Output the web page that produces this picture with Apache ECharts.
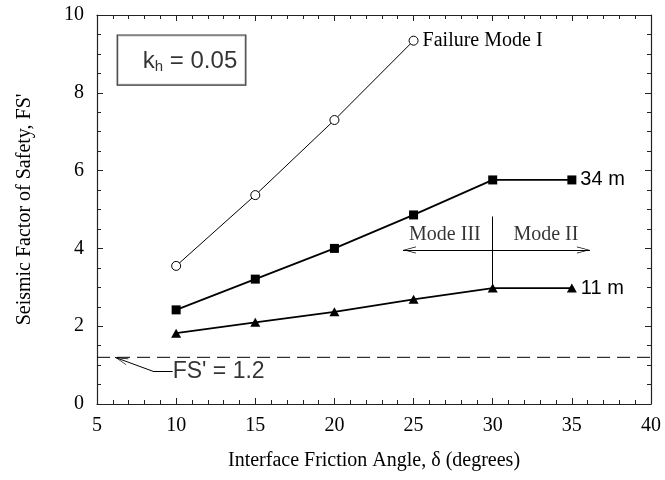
<!DOCTYPE html>
<html><head><meta charset="utf-8">
<script src="https://cdn.jsdelivr.net/npm/echarts@6/dist/echarts.min.js"></script>
<style>html,body{margin:0;padding:0;background:#fff}#c{width:665px;height:480px}</style>
</head><body><div id="c"></div>
<script>
// ---- data ----
const angles = [10, 15, 20, 25, 30, 35];
const modeIAngles = [10, 15, 20, 25];
const modeIValues = [3.55, 5.37, 7.30, 9.34];
const h34Values = [2.42, 3.21, 4.00, 4.86, 5.76, 5.76];
const h11Values = [1.82, 2.10, 2.37, 2.69, 2.98, 2.98];
const fsLimit = 1.2;
const xRange = [5, 40];
const yRange = [0, 10];
const modeILabel = 'Failure Mode I';
const h34Label = '34 m';
const h11Label = '11 m';
// annotation anchors (data coordinates)
const modeBoundaryAngle = 30;
const modeArrowRange = [24.33, 36.14];
const modeArrowY = 3.96;
const modeBoundaryTop = 4.82;
const modeIIIText = [26.98, 4.34];
const modeIIText = [33.36, 4.34];
const khBoxPos = [10.34, 8.84];
const fsTextPos = [9.78, 0.84];
const fsLeader = [[9.78, 0.84], [8.54, 0.84], [6.14, 1.2]];

const serif = "'Liberation Serif','Times New Roman',serif";
const sans = "'Liberation Sans',Arial,Helvetica,sans-serif";
const axisColor = '#222';

function withEndLabel(xs, ys, text, font, size) {
  return xs.map((x, i) => {
    const item = { value: [x, ys[i]] };
    if (i === xs.length - 1) {
      item.label = { show: true, position: 'right', distance: 4, formatter: text,
        fontFamily: font, fontSize: size, color: '#000' };
    }
    return item;
  });
}

const arrowPath = 'path://M5,0 L10,10 L9,10 L5,2 L1,10 L0,10 Z';

const chart = echarts.init(document.getElementById('c'), null, { renderer: 'canvas' });
const baseAxis = {
  type: 'value',
  axisLine: { show: true, onZero: false, lineStyle: { color: axisColor, width: 1.2 } },
  axisTick: { show: true, inside: true, length: 6, lineStyle: { color: axisColor, width: 1 } },
  minorTick: { show: true, length: 4, lineStyle: { color: axisColor, width: 1 } },
  splitLine: { show: false },
  minorSplitLine: { show: false }
};
const option = {
  animation: false,
  backgroundColor: '#fff',
  grid: { left: 97, right: 14, top: 15, bottom: 76, containLabel: false },
  xAxis: [
    Object.assign({}, baseAxis, {
      min: xRange[0], max: xRange[1], interval: 5, position: 'bottom',
      minorTick: Object.assign({}, baseAxis.minorTick, { splitNumber: 5 }),
      axisLabel: { fontFamily: serif, fontSize: 20, color: '#000', margin: 12 },
      name: 'Interface Friction Angle, \u03b4 (degrees)', nameLocation: 'middle', nameGap: 47,
      nameTextStyle: { fontFamily: serif, fontSize: 20, color: '#000' }
    }),
    Object.assign({}, baseAxis, {
      min: xRange[0], max: xRange[1], interval: 5, position: 'top',
      minorTick: Object.assign({}, baseAxis.minorTick, { splitNumber: 5 }),
      axisLabel: { show: false }
    })
  ],
  yAxis: [
    Object.assign({}, baseAxis, {
      min: yRange[0], max: yRange[1], interval: 2, position: 'left',
      minorTick: Object.assign({}, baseAxis.minorTick, { splitNumber: 4 }),
      axisLabel: { fontFamily: serif, fontSize: 20, color: '#000', margin: 13 },
      name: "Seismic Factor of Safety, FS'", nameLocation: 'middle', nameGap: 62, nameRotate: 90,
      nameTextStyle: { fontFamily: serif, fontSize: 20, color: '#000' }
    }),
    Object.assign({}, baseAxis, {
      min: yRange[0], max: yRange[1], interval: 2, position: 'right',
      minorTick: Object.assign({}, baseAxis.minorTick, { splitNumber: 4 }),
      axisLabel: { show: false }
    })
  ],
  series: [
    {
      name: 'Mode I', type: 'line', xAxisIndex: 0, yAxisIndex: 0,
      data: withEndLabel(modeIAngles, modeIValues, modeILabel, serif, 20),
      symbol: 'circle', symbolSize: 9,
      itemStyle: { color: '#fff', borderColor: '#000', borderWidth: 1 },
      lineStyle: { color: '#000', width: 1 }, z: 3
    },
    {
      name: '34 m', type: 'line',
      data: withEndLabel(angles, h34Values, h34Label, sans, 20),
      symbol: 'rect', symbolSize: 9,
      itemStyle: { color: '#000' }, lineStyle: { color: '#000', width: 1.8 }, z: 3
    },
    {
      name: '11 m', type: 'line',
      data: withEndLabel(angles, h11Values, h11Label, sans, 20),
      symbol: 'triangle', symbolSize: [10, 9],
      itemStyle: { color: '#000' }, lineStyle: { color: '#000', width: 1.8 }, z: 3
    },
    {
      name: 'FS limit', type: 'line',
      data: [[xRange[0], fsLimit], [xRange[1], fsLimit]],
      symbol: 'none', lineStyle: { color: '#000', width: 1, type: [13, 7] }, z: 2
    },
    {
      name: 'annotations', type: 'scatter', symbolSize: 0,
      itemStyle: { color: '#000' },
      data: [
        { value: modeIIIText, label: { show: true, position: 'inside', formatter: 'Mode III',
            fontFamily: serif, fontSize: 20, color: '#000' } },
        { value: modeIIText, label: { show: true, position: 'inside', formatter: 'Mode II',
            fontFamily: serif, fontSize: 20, color: '#000' } },
        { value: khBoxPos, label: { show: true, position: 'inside',
            formatter: '{k|k}{s|h}{k| = 0.05}',
            borderColor: '#000', borderWidth: 1.2, padding: [12, 8, 10, 25], backgroundColor: '#fff',
            rich: {
              k: { fontFamily: sans, fontSize: 24, color: '#000' },
              s: { fontFamily: sans, fontSize: 15, color: '#000', verticalAlign: 'bottom', padding: [12, 0, 0, 0] }
            } } },
        { value: fsTextPos, label: { show: true, position: 'right', distance: 0, formatter: "FS' = 1.2",
            fontFamily: sans, fontSize: 23, color: '#000' } }
      ],
      markLine: {
        silent: true, animation: false,
        label: { show: false },
        lineStyle: { color: '#000', width: 1, type: 'solid' },
        symbol: ['none', 'none'],
        data: [
          [ { coord: [modeArrowRange[0], modeArrowY], symbol: arrowPath, symbolSize: [7, 13], symbolOffset: [0, '50%'] },
            { coord: [modeArrowRange[1], modeArrowY], symbol: arrowPath, symbolSize: [7, 13], symbolOffset: [0, '50%'] } ],
          [ { coord: [modeBoundaryAngle, modeBoundaryTop], symbol: 'none' },
            { coord: [modeBoundaryAngle, h11Values[4]], symbol: 'none' } ],
          [ { coord: fsLeader[0], symbol: 'none' }, { coord: fsLeader[1], symbol: 'none' } ],
          [ { coord: fsLeader[1], symbol: 'none' },
            { coord: fsLeader[2], symbol: arrowPath, symbolSize: [7, 13], symbolOffset: [0, '50%'] } ]
        ]
      },
      z: 4
    }
  ]
};
chart.setOption(option);
</script>
</body></html>
